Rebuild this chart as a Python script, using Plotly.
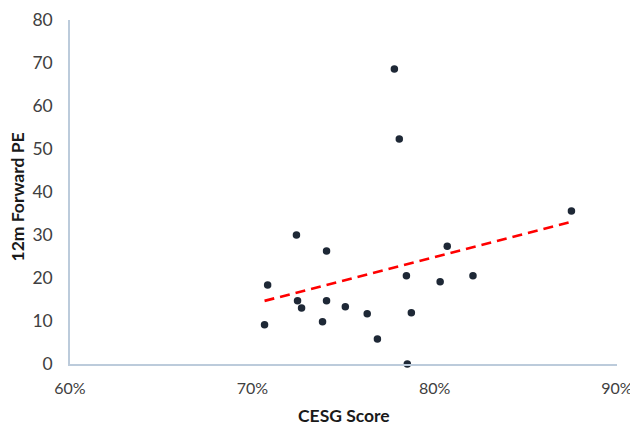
import numpy as np
import plotly.graph_objects as go

# CESG score (fraction) and 12m forward PE
cesg_score = [0.7067, 0.7084, 0.7242, 0.7248, 0.7270, 0.7385, 0.7407, 0.7407, 0.7510, 0.7630,
              0.7686, 0.7779, 0.7806, 0.7845, 0.7850, 0.7872, 0.8030, 0.8069, 0.8210, 0.8750]
forward_pe = [9.1, 18.4, 30.0, 14.7, 13.0, 9.8, 14.7, 26.3, 13.3, 11.7,
              5.8, 68.6, 52.3, 20.5, 0.0, 11.9, 19.1, 27.4, 20.5, 35.6]

x_ticks = [0.6, 0.7, 0.8, 0.9]
y_ticks = [0, 10, 20, 30, 40, 50, 60, 70, 80]

# Linear trendline (least squares), spanning data range
slope, intercept = np.polyfit(cesg_score, forward_pe, 1)
trend_x = [min(cesg_score), max(cesg_score)]
trend_y = [slope * v + intercept for v in trend_x]

fig = go.Figure()
fig.add_trace(go.Scatter(
    x=trend_x, y=trend_y, mode="lines",
    line=dict(color="#ff0000", width=2.6, dash="10px,6px"),
    hoverinfo="skip", showlegend=False,
))
fig.add_trace(go.Scatter(
    x=cesg_score, y=forward_pe, mode="markers",
    marker=dict(color="#1e2836", size=7.5),
    showlegend=False, cliponaxis=False,
))

axis_line = "#bccbdb"
title_font = dict(family="Lato, Calibri, sans-serif", size=17.5, color="#1a1a1a")
# page body has an 8px default margin, so the figure is sized/offset to compensate
fig.update_layout(
    width=638, height=417,
    margin=dict(l=62, r=29, t=12, b=61),
    paper_bgcolor="white", plot_bgcolor="white",
    font=dict(family="Lato, Calibri, sans-serif", color="#404040", size=17.5),
    xaxis=dict(
        range=[0.6, 0.9], tickvals=x_ticks, tickformat=".0%",
        tickfont=dict(size=16),
        showgrid=False, zeroline=False, showline=True, linecolor=axis_line, linewidth=1.5,
        ticks="", ticklabelstandoff=9, automargin=False, ticklabeloverflow="allow",
    ),
    yaxis=dict(
        range=[0, 80], tickvals=y_ticks,
        showgrid=False, zeroline=False, showline=True, linecolor=axis_line, linewidth=1.5,
        ticks="", ticklabelstandoff=12, automargin=False,
    ),
    annotations=[
        dict(text="<b>CESG Score</b>", xref="paper", yref="paper", x=0.5, y=0,
             xanchor="center", yanchor="middle", yshift=-51, showarrow=False, font=title_font),
        dict(text="<b>12m Forward PE</b>", xref="paper", yref="paper", x=0, y=0.5,
             xanchor="center", yanchor="middle", xshift=-53.5, yshift=-5, textangle=-90,
             showarrow=False, font=title_font),
    ],
)

fig.write_html("out.html")
